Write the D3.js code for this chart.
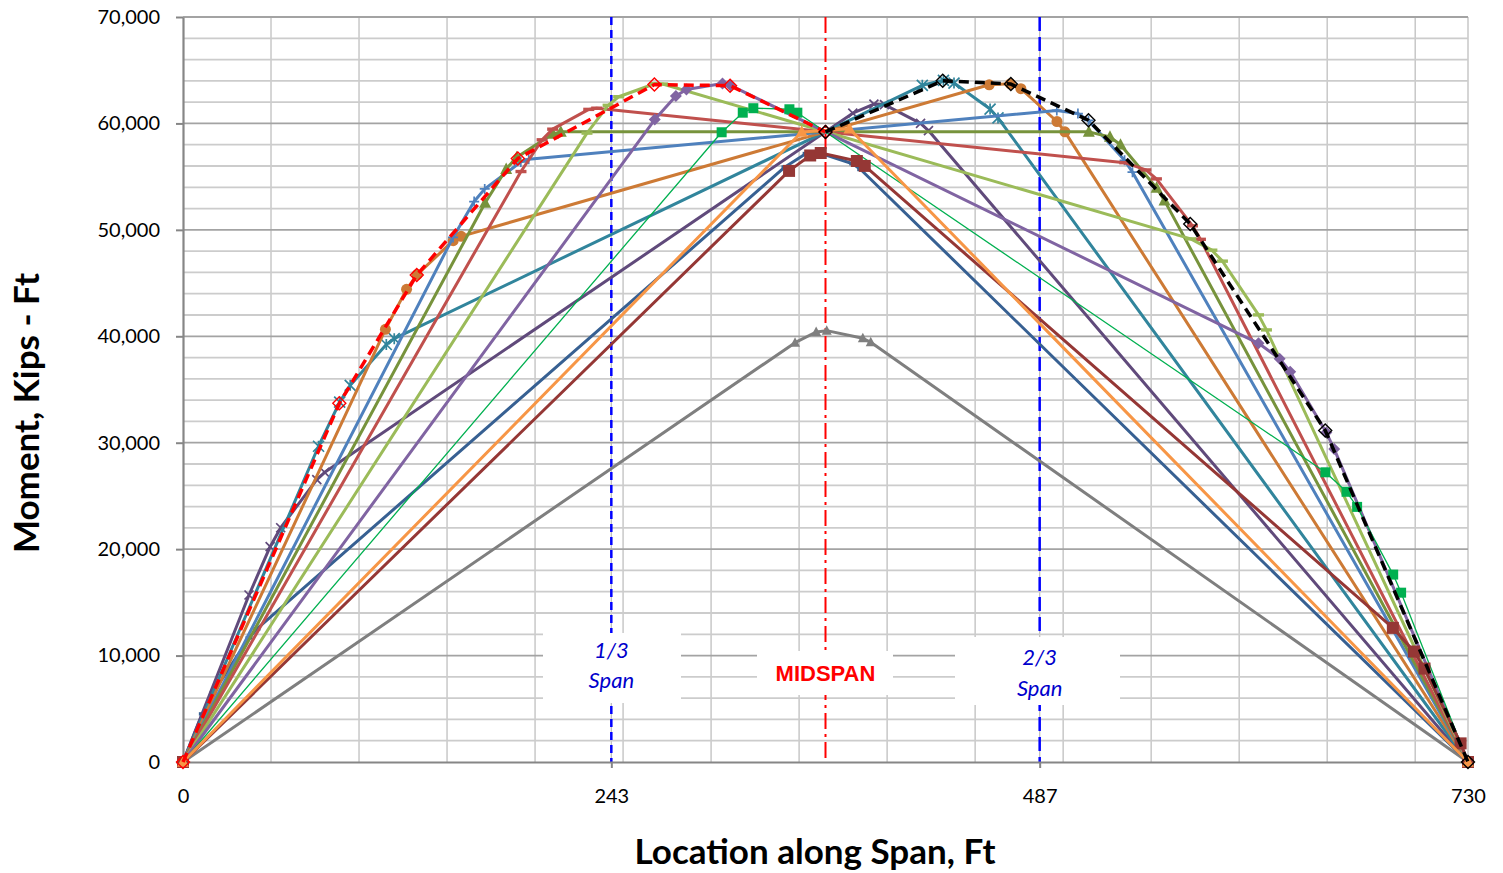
<!DOCTYPE html>
<html>
<head>
<meta charset="utf-8">
<script src="https://cdn.jsdelivr.net/npm/d3@7/dist/d3.min.js"></script>
<style>
  html, body { margin: 0; padding: 0; background: #ffffff; }
  svg { display: block; }
</style>
</head>
<body>
<svg id="chart" width="1503" height="873"></svg>
<script>
// ---------------- DATA ----------------
const xTickValues = [0, 243.33, 486.67, 730];
const xTickLabels = ["0", "243", "487", "730"];
const yTickValues = [0, 10000, 20000, 30000, 40000, 50000, 60000, 70000];
const xGridValues = [50, 100, 150, 200, 243.33, 250, 300, 350, 400, 450, 486.67, 500, 550, 600, 650, 700, 730];
const yGridValues = [2000, 4000, 6000, 8000, 10000, 12000, 14000, 16000, 18000, 20000, 22000, 24000, 26000, 28000, 30000,
  32000, 34000, 36000, 38000, 40000, 42000, 44000, 46000, 48000, 50000, 52000, 54000, 56000, 58000, 60000,
  62000, 64000, 66000, 68000, 70000];
const refLineValues = [243.33, 365, 486.67];

// [location ft, moment kip-ft]
const grayPts = [[0,0],[347.7,39400],[359.7,40400],[365.7,40530],[386.2,39810],[390.7,39430],[730,0]];
const darkBluePts = [[0,0],[11,4520],[17,6480],[37.5,11660],[42,12500],[342,55910],[354,57170],[360,57300],[380.5,56210],[385,55670],[730,0]];
const darkPurplePts = [[0,0],[37.5,15690],[49.5,20230],[55.5,22010],[76,26530],[80.5,27220],[380.5,60960],[392.5,61820],[398.5,61760],[419,60010],[423.5,59330],[730,0]];
const tealPts = [[0,0],[77,29670],[89,33820],[95,35390],[115.5,39230],[120,39780],[420,63580],[432,64050],[438,63790],[458.5,61350],[463,60520],[730,0]];
const brownPts = [[0,0],[115,40650],[127,44410],[133,45800],[153.5,48980],[158,49390],[458,63630],[470,63720],[476,63270],[496.5,60180],[501,59210],[730,0]];
const bluePts = [[0,0],[153.4,49290],[165.4,52660],[171.4,53850],[191.9,56380],[196.4,56640],[496.4,61220],[508.4,60930],[514.4,60280],[534.9,56530],[539.4,55420],[730,0]];
const olivePts = [[0,0],[171.6,52520],[183.6,55710],[189.6,56810],[210.1,59020],[214.6,59210],[514.6,59210],[526.6,58730],[532.6,57990],[553.1,53940],[557.6,52750],[730,0]];
const redPts = [[0,0],[192,55480],[204,58460],[210,59460],[230.5,61320],[235,61430],[535,56310],[547,55630],[553,54790],[573.5,50380],[578,49110],[730,0]];
const lightGreenPts = [[0,0],[229.5,59090],[241.5,61700],[247.5,62510],[268,63730],[272.5,63700],[572.5,49150],[584.5,48090],[590.5,47060],[611,42010],[615.5,40600],[730,0]];
const purplePts = [[0,0],[268,60360],[280,62580],[286,63190],[306.5,63750],[311,63580],[611,39340],[623,37890],[629,36670],[649.5,30950],[654,29400],[730,0]];
const thinGreenPts = [[0,0],[306,59170],[318,61010],[324,61430],[344.5,61330],[349,61010],[649,27220],[661,25390],[667,23970],[687.5,17610],[692,15910],[730,0]];
const darkRedPts = [[0,0],[344.3,55540],[356.3,56990],[362.3,57220],[382.8,56470],[387.3,56010],[687.3,12600],[699.3,10380],[705.3,8780],[725.8,1750],[730,0]];
const orangePts = [[0,0],[351.5,59200],[378.6,59500],[730,0]];
const leftEnvelopePts = [[0,0],[88.8,33700],[132.8,45750],[190.2,56700],[267.8,63650],[310.8,63550],[365,59200]];
const rightEnvelopePts = [[365,59200],[431.6,64000],[470.3,63700],[514.4,60300],[572.2,50550],[648.9,31150],[730,0]];

// ---------------- STYLES ----------------
const seriesList = [
  { data: grayPts,        color: "#7F7F7F", width: 3, marker: "triangle", size: 10 },
  { data: darkBluePts,    color: "#376092", width: 3, marker: "dash",     size: 7 },
  { data: darkPurplePts,  color: "#604A7B", width: 3, marker: "x",        size: 9 },
  { data: tealPts,        color: "#31859C", width: 3, marker: "star",     size: 11 },
  { data: brownPts,       color: "#CD7A35", width: 3, marker: "circle",   size: 11 },
  { data: bluePts,        color: "#4F81BD", width: 3, marker: "plus",     size: 10 },
  { data: olivePts,       color: "#77933C", width: 3, marker: "triangle", size: 12 },
  { data: redPts,         color: "#C0504D", width: 3, marker: "dash",     size: 11 },
  { data: lightGreenPts,  color: "#9BBB59", width: 3, marker: "dash",     size: 11 },
  { data: purplePts,      color: "#8064A2", width: 3, marker: "diamond",  size: 12 },
  { data: thinGreenPts,   color: "#00B050", width: 1.3, marker: "square", size: 10 },
  { data: darkRedPts,     color: "#953735", width: 3, marker: "square",   size: 12 },
  { data: orangePts,      color: "#F79646", width: 3, marker: "triangle", size: 12 },
  { data: leftEnvelopePts,  color: "#FF0000", width: 3.5, marker: "hollowDiamond", size: 13, dash: "10,6" },
  { data: rightEnvelopePts, color: "#000000", width: 3.5, marker: "hollowDiamond", size: 13, dash: "10,6" }
];

// ---------------- CHART ----------------
const svg = d3.select("#chart");
const plot = { left: 183, right: 1468, top: 17, bottom: 762 };
const x = d3.scaleLinear().domain([0, 730]).range([plot.left, plot.right]);
const y = d3.scaleLinear().domain([0, 70000]).range([plot.bottom, plot.top]);
const fontMain = "Lato, 'Open Sans', 'DejaVu Sans', sans-serif";

svg.append("rect").attr("width", 1503).attr("height", 873).attr("fill", "#fff");

// gridlines
const grid = svg.append("g");
grid.selectAll("line.v").data(xGridValues).enter().append("line")
  .attr("x1", d => x(d)).attr("x2", d => x(d))
  .attr("y1", plot.top).attr("y2", plot.bottom)
  .attr("stroke", "#BFBFBF").attr("stroke-width", 1.3);
grid.selectAll("line.h").data(yGridValues).enter().append("line")
  .attr("x1", plot.left).attr("x2", plot.right)
  .attr("y1", d => y(d)).attr("y2", d => y(d))
  .attr("stroke", d => d % 10000 === 0 ? "#A3A3A3" : "#CCCCCC")
  .attr("stroke-width", 1.8);

// reference lines
const refs = svg.append("g");
refs.append("line").attr("x1", x(refLineValues[0])).attr("x2", x(refLineValues[0]))
  .attr("y1", plot.top).attr("y2", plot.bottom)
  .attr("stroke", "#0000FF").attr("stroke-width", 2.5).attr("stroke-dasharray", "8,5");
refs.append("line").attr("x1", x(refLineValues[2])).attr("x2", x(refLineValues[2]))
  .attr("y1", plot.top).attr("y2", plot.bottom)
  .attr("stroke", "#0000FF").attr("stroke-width", 2.5).attr("stroke-dasharray", "14,6");
refs.append("line").attr("x1", x(refLineValues[1])).attr("x2", x(refLineValues[1]))
  .attr("y1", plot.top).attr("y2", plot.bottom)
  .attr("stroke", "#FF0000").attr("stroke-width", 2).attr("stroke-dasharray", "16,5,3,5");

// label boxes
const boxes = svg.append("g");
boxes.append("rect").attr("x", 543).attr("y", 633).attr("width", 138).attr("height", 70).attr("fill", "#fff");
boxes.append("rect").attr("x", 757).attr("y", 651).attr("width", 136).attr("height", 44).attr("fill", "#fff");
boxes.append("rect").attr("x", 955).attr("y", 637).attr("width", 165).attr("height", 68).attr("fill", "#fff");
const boxText = (tx, ty, t) => boxes.append("text").attr("x", tx).attr("y", ty).attr("text-anchor", "middle")
  .attr("font-family", fontMain).attr("font-style", "italic").attr("font-size", 22).attr("fill", "#0000CC").text(t);
boxText(x(refLineValues[0]), 658, "1/3");
boxText(x(refLineValues[0]), 688, "Span");
boxText(x(refLineValues[2]), 665, "2/3");
boxText(x(refLineValues[2]), 696, "Span");
boxes.append("text").attr("x", x(refLineValues[1])).attr("y", 681).attr("text-anchor", "middle")
  .attr("font-family", "'Liberation Sans', Arial, sans-serif").attr("font-weight", "bold")
  .attr("font-size", 22).attr("fill", "#FF0000").text("MIDSPAN");

// axes
const yAxis = d3.axisLeft(y).tickValues(yTickValues).tickFormat(d3.format(",")).tickSize(7).tickSizeOuter(0).tickPadding(16);
const xAxis = d3.axisBottom(x).tickValues(xTickValues).tickFormat((d, i) => xTickLabels[i]).tickSize(6).tickSizeOuter(0).tickPadding(21);
const gy = svg.append("g").attr("transform", `translate(${plot.left},0)`).call(yAxis);
const gx = svg.append("g").attr("transform", `translate(0,${plot.bottom})`).call(xAxis);
[gx, gy].forEach(g => {
  g.select(".domain").attr("stroke", "#868686").attr("stroke-width", 2.2);
  g.selectAll(".tick line").attr("stroke", "#868686").attr("stroke-width", 2);
  g.selectAll(".tick text").attr("font-family", fontMain).attr("font-size", 20).attr("fill", "#000");
});

// titles
svg.append("text").attr("x", 815).attr("y", 864).attr("text-anchor", "middle")
  .attr("font-family", fontMain).attr("font-weight", "bold").attr("font-size", 35).attr("fill", "#000")
  .text("Location along Span, Ft");
svg.append("text").attr("transform", "translate(39,413) rotate(-90)").attr("text-anchor", "middle")
  .attr("font-family", fontMain).attr("font-weight", "bold").attr("font-size", 35).attr("fill", "#000")
  .text("Moment, Kips - Ft");

// series
const line = d3.line().x(d => x(d[0])).y(d => y(d[1]));
function drawMarker(g, s, px, py) {
  const r = s.size / 2, c = s.color;
  switch (s.marker) {
    case "square":
      g.append("rect").attr("x", px - r).attr("y", py - r).attr("width", s.size).attr("height", s.size).attr("fill", c); break;
    case "diamond":
      g.append("path").attr("d", `M${px},${py - r}L${px + r},${py}L${px},${py + r}L${px - r},${py}Z`).attr("fill", c); break;
    case "hollowDiamond":
      g.append("path").attr("d", `M${px},${py - r}L${px + r},${py}L${px},${py + r}L${px - r},${py}Z`)
        .attr("fill", "none").attr("stroke", c).attr("stroke-width", 1.4); break;
    case "triangle":
      g.append("path").attr("d", `M${px},${py - r * 1.1}L${px + r},${py + r * 0.8}L${px - r},${py + r * 0.8}Z`).attr("fill", c); break;
    case "circle":
      g.append("circle").attr("cx", px).attr("cy", py).attr("r", r).attr("fill", c); break;
    case "x":
      g.append("path").attr("d", `M${px - r},${py - r}L${px + r},${py + r}M${px - r},${py + r}L${px + r},${py - r}`)
        .attr("stroke", c).attr("stroke-width", 1.7); break;
    case "star":
      g.append("path").attr("d", `M${px - r},${py - r}L${px + r},${py + r}M${px - r},${py + r}L${px + r},${py - r}M${px},${py - r}L${px},${py + r}`)
        .attr("stroke", c).attr("stroke-width", 1.7); break;
    case "plus":
      g.append("path").attr("d", `M${px - r},${py}L${px + r},${py}M${px},${py - r}L${px},${py + r}`)
        .attr("stroke", c).attr("stroke-width", 1.7); break;
    case "dash":
      g.append("rect").attr("x", px - r).attr("y", py - 1.7).attr("width", s.size).attr("height", 3.4).attr("fill", c); break;
  }
}
const seriesG = svg.append("g");
seriesList.forEach(s => {
  const g = seriesG.append("g");
  g.append("path").datum(s.data).attr("d", line).attr("fill", "none")
    .attr("stroke", s.color).attr("stroke-width", s.width)
    .attr("stroke-linejoin", "round")
    .attr("stroke-dasharray", s.dash || null);
  s.data.forEach(d => drawMarker(g, s, x(d[0]), y(d[1])));
});
</script>
</body>
</html>
